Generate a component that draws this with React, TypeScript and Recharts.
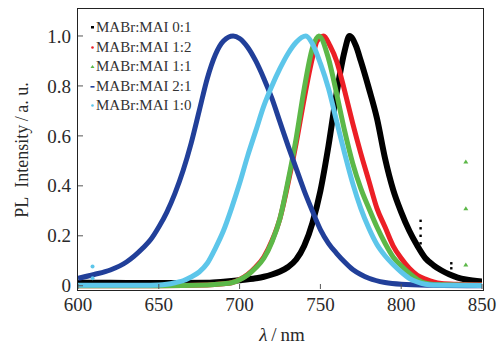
import { ComposedChart, Line, Scatter, XAxis, YAxis, Legend, Label } from "recharts"

// wavelength (nm) / normalised PL intensity
const wl01 = [600, 620, 640, 660, 680, 690, 700, 710, 715, 720, 725, 730, 735, 740, 745, 750, 755, 760, 765, 768, 772, 775, 780, 785, 790, 795, 800, 805, 810, 815, 820, 825, 830, 835, 840, 850]
const pl01 = [0.012, 0.012, 0.011, 0.011, 0.012, 0.016, 0.022, 0.03, 0.036, 0.045, 0.057, 0.075, 0.105, 0.16, 0.25, 0.38, 0.56, 0.77, 0.94, 1.0, 0.96, 0.9, 0.79, 0.67, 0.51, 0.385, 0.295, 0.22, 0.16, 0.11, 0.082, 0.061, 0.045, 0.033, 0.025, 0.017]

const wl12 = [600, 650, 680, 690, 695, 700, 705, 710, 715, 720, 725, 730, 735, 740, 745, 748, 752, 756, 760, 765, 770, 775, 780, 785, 790, 795, 800, 805, 810, 815, 820, 825, 835, 850]
const pl12 = [0.0, 0.0, 0.003, 0.008, 0.012, 0.025, 0.045, 0.075, 0.115, 0.18, 0.27, 0.41, 0.57, 0.75, 0.91, 0.98, 1.0, 0.96, 0.9, 0.78, 0.65, 0.53, 0.42, 0.31, 0.235, 0.16, 0.11, 0.07, 0.042, 0.027, 0.015, 0.009, 0.006, 0.004]

const wl11 = [600, 650, 680, 690, 695, 700, 705, 710, 715, 720, 725, 730, 735, 740, 745, 749, 755, 760, 765, 770, 775, 780, 785, 790, 795, 800, 805, 810, 815, 820, 850]
const pl11 = [0.0, 0.0, 0.003, 0.008, 0.012, 0.024, 0.043, 0.072, 0.11, 0.175, 0.27, 0.42, 0.59, 0.79, 0.95, 1.0, 0.91, 0.77, 0.62, 0.49, 0.39, 0.31, 0.235, 0.17, 0.115, 0.08, 0.05, 0.025, 0.01, 0.005, 0.002]

const wl21 = [600, 610, 620, 630, 640, 645, 650, 655, 660, 665, 670, 675, 680, 685, 690, 696, 700, 705, 710, 715, 720, 725, 730, 735, 740, 745, 750, 755, 760, 765, 770, 775, 780, 790, 800, 820, 850]
const pl21 = [0.03, 0.045, 0.063, 0.095, 0.15, 0.185, 0.235, 0.295, 0.37, 0.46, 0.57, 0.7, 0.83, 0.925, 0.98, 1.0, 0.99, 0.955, 0.9, 0.83, 0.75, 0.655, 0.56, 0.47, 0.38, 0.3, 0.225, 0.17, 0.13, 0.095, 0.065, 0.045, 0.03, 0.013, 0.006, 0.002, 0]

const wl10 = [600, 620, 640, 650, 655, 660, 665, 670, 675, 680, 685, 690, 695, 700, 705, 710, 715, 720, 725, 730, 735, 741, 745, 750, 755, 760, 765, 770, 775, 780, 785, 790, 795, 800, 805, 810, 815, 820, 830, 850]
const pl10 = [0.002, 0.002, 0.002, 0.003, 0.006, 0.012, 0.02, 0.035, 0.055, 0.09, 0.15, 0.22, 0.31, 0.41, 0.52, 0.62, 0.72, 0.8, 0.87, 0.93, 0.975, 1.0, 0.97, 0.89, 0.79, 0.66, 0.53, 0.41, 0.31, 0.23, 0.165, 0.12, 0.085, 0.055, 0.03, 0.015, 0.006, 0.003, 0.002, 0.001]

// stray points (noise spikes)
const noise01X = [812, 812, 812, 812, 812, 831, 831]
const noise01Y = [0.26, 0.23, 0.2, 0.17, 0.14, 0.09, 0.07]
const noise11X = [840, 840, 840]
const noise11Y = [0.497, 0.31, 0.085]
const noise10X = [609, 609]
const noise10Y = [0.077, 0.03]

const xTicks = [600, 650, 700, 750, 800, 850]
const yTicks = [0, 0.2, 0.4, 0.6, 0.8, 1.0]

const pts = (xs: number[], ys: number[]) => xs.map((x, i) => ({ x, y: ys[i] }))

const series = [
  { name: "MABr:MAI 0:1", color: "#000000", width: 6, data: pts(wl01, pl01), mark: "square" },
  { name: "MABr:MAI 1:2", color: "#ec1f26", width: 5, data: pts(wl12, pl12), mark: "dot" },
  { name: "MABr:MAI 1:1", color: "#5cb848", width: 5, data: pts(wl11, pl11), mark: "tri" },
  { name: "MABr:MAI 2:1", color: "#213f99", width: 5, data: pts(wl21, pl21), mark: "dash" },
  { name: "MABr:MAI 1:0", color: "#5dc6ea", width: 5, data: pts(wl10, pl10), mark: "dot" },
]

const FONT = "'Liberation Serif', 'Times New Roman', serif"
const INK = "#2a2a2a"

function Marker({ kind, color }: { kind: string; color: string }) {
  return (
    <svg width={5} height={5} style={{ marginRight: 1 }}>
      {kind === "square" && <rect x={1} y={1} width={3} height={2.5} fill={color} />}
      {kind === "dot" && <circle cx={2.5} cy={2.5} r={1.3} fill={color} />}
      {kind === "tri" && <path d="M2.5 1 L4.5 4 L0.5 4 Z" fill={color} />}
      {kind === "dash" && <rect x={0.5} y={2} width={4} height={1.6} fill={color} />}
    </svg>
  )
}

const renderLegend = () => (
  <div style={{ fontFamily: FONT, fontSize: 15, color: "#333" }}>
    {series.map((s) => (
      <div key={s.name} style={{ display: "flex", alignItems: "center", height: 19.5, whiteSpace: "nowrap" }}>
        <Marker kind={s.mark} color={s.color} />
        <span>{s.name}</span>
      </div>
    ))}
  </div>
)

const XTick = ({ x, y, payload }: any) => (
  <g>
    <line x1={x} x2={x} y1={y - 9} y2={y - 14} stroke="#555" strokeWidth={1} />
    <text x={x} y={y} dy="0.71em" textAnchor="middle" fill={INK} fontSize={19} fontFamily={FONT}>
      {payload.value}
    </text>
  </g>
)

const YTick = ({ x, y, payload }: any) => (
  <g>
    <line x1={x + 7} x2={x + 12} y1={y} y2={y} stroke="#555" strokeWidth={1} />
    <text x={x} y={y} dy="0.35em" textAnchor="end" fill={INK} fontSize={19} fontFamily={FONT}>
      {payload.value === 0 ? "0" : payload.value.toFixed(1)}
    </text>
  </g>
)

const YTitle = () => (
  <text x={28} y={150} transform="rotate(-90, 28, 150)" textAnchor="middle" fill={INK} fontSize={18} fontFamily={FONT}>
    {"PL\u00a0\u00a0Intensity\u2009/\u2009a.\u00a0u."}
  </text>
)

const XTitle = () => (
  <text x={282} y={341} textAnchor="middle" fill={INK} fontSize={19} fontFamily={FONT}>
    <tspan fontStyle="italic">λ</tspan>
    {"\u2009/\u2009nm"}
  </text>
)

const dotShape = (color: string, sq = false) => (p: any) =>
  sq ? <rect x={p.cx - 1.2} y={p.cy - 1.2} width={2.4} height={2.4} fill={color} /> : <circle cx={p.cx} cy={p.cy} r={2} fill={color} />

const triShape = (p: any) => <path d={`M${p.cx} ${p.cy - 2} L${p.cx + 2.5} ${p.cy + 2} L${p.cx - 2.5} ${p.cy + 2} Z`} fill="#5cb848" />

export default function App() {
  return (
    <div style={{ position: "absolute", left: 0, top: 0, width: 498, height: 346, background: "#fff" }}>
      <ComposedChart width={498} height={346} margin={{ top: 9, right: 16, bottom: 27, left: 0 }}>
        <XAxis
          dataKey="x"
          type="number"
          domain={[600, 850]}
          ticks={xTicks}
          allowDataOverflow
          height={30}
          tickLine={false}
          tickSize={0}
          tickMargin={9}
          axisLine={false}
          tick={<XTick />}
        >
          <Label content={<XTitle />} />
        </XAxis>
        <YAxis
          type="number"
          domain={[-0.013, 1.108]}
          ticks={yTicks}
          allowDataOverflow
          width={78}
          tickLine={false}
          tickSize={0}
          tickMargin={7}
          axisLine={false}
          tick={<YTick />}
        >
          <Label content={<YTitle />} />
        </YAxis>
        <Legend
          layout="horizontal"
          verticalAlign="middle"
          align="center"
          content={renderLegend}
          wrapperStyle={{ top: 18, left: 90, width: "auto" }}
        />
        {series.map((s) => (
          <Line
            key={s.name}
            data={s.data}
            dataKey="y"
            name={s.name}
            type="monotone"
            stroke={s.color}
            strokeWidth={s.width}
            dot={false}
            isAnimationActive={false}
          />
        ))}
        <Scatter data={pts(noise01X, noise01Y)} dataKey="y" shape={dotShape("#000", true)} isAnimationActive={false} legendType="none" />
        <Scatter data={pts(noise11X, noise11Y)} dataKey="y" shape={triShape} isAnimationActive={false} legendType="none" />
        <Scatter data={pts(noise10X, noise10Y)} dataKey="y" shape={dotShape("#5dc6ea")} isAnimationActive={false} legendType="none" />
      </ComposedChart>
      <div
        style={{
          position: "absolute",
          left: 77,
          top: 8,
          width: 405,
          height: 281,
          border: "1.5px solid #222",
          pointerEvents: "none",
        }}
      />
    </div>
  )
}
